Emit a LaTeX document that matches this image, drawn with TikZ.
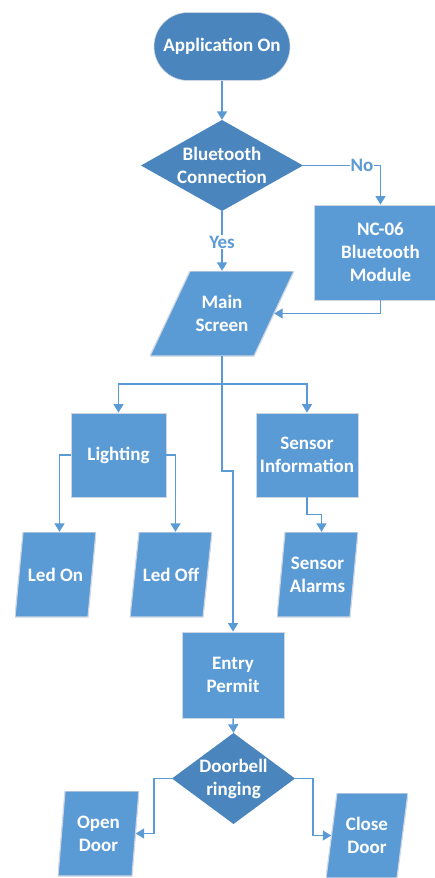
\documentclass[tikz,border=0pt]{standalone}
\usepackage{fontspec}
\setmainfont{Carlito}
\usetikzlibrary{arrows.meta,calc}
\definecolor{db}{RGB}{74,134,189}
\definecolor{lb}{RGB}{91,155,213}
\definecolor{bord}{RGB}{205,214,226}
\begin{document}
\begin{tikzpicture}[x=1pt,y=-1pt,
  every node/.style={font=\fontsize{19}{23}\selectfont\bfseries, text=white, align=center, inner sep=0pt},
  term/.style={rectangle, rounded corners=34pt, fill=db, draw=bord, line width=0.6pt, minimum width=136pt, minimum height=68pt},
  procbox/.style={rectangle, fill=lb, draw=bord, line width=0.8pt},
  decide/.style={rectangle, path picture={\fill[db] (path picture bounding box.west) -- (path picture bounding box.north) -- (path picture bounding box.east) -- (path picture bounding box.south) -- cycle;}},
  para/.style={rectangle, path picture={\filldraw[fill=lb, draw=bord, line width=1.2pt] ([xshift=#1]path picture bounding box.north west) -- (path picture bounding box.north east) -- ([xshift=-#1]path picture bounding box.south east) -- (path picture bounding box.south west) -- cycle;}},
  conn/.style={draw=lb, line width=1.5pt, -{Triangle[width=10pt,length=8.5pt]}},
  lbl/.style={fill=white, text=lb, inner sep=1pt}
]
\useasboundingbox (0,0) rectangle (435,878);
\clip (0,0) rectangle (435,878);

% nodes
\node[term] (app) at (222,46.5) {Application On};
\node[decide, minimum width=162pt, minimum height=91pt] (bt) at (222,165.5) {Bluetooth\\Connection};
\node[procbox, minimum width=133pt, minimum height=95pt] (nc) at (380.5,252.5) {NC-06\\Bluetooth\\Module};
\node[para=40pt, minimum width=144pt, minimum height=85pt] (ms) at (222,313.5) {Main\\Screen};
\node[procbox, minimum width=95pt, minimum height=84pt] (light) at (118.5,455) {Lighting};
\node[procbox, minimum width=102pt, minimum height=84pt] (sens) at (307,455) {Sensor\\Information};
\node[para=8pt, minimum width=81pt, minimum height=85pt] (ledon) at (55.5,574.5) {Led On};
\node[para=9pt, minimum width=82pt, minimum height=85pt] (ledoff) at (171,574.5) {Led Off};
\node[para=8pt, minimum width=81pt, minimum height=85pt] (alarm) at (317.5,574.5) {Sensor\\Alarms};
\node[procbox, minimum width=102pt, minimum height=86pt] (entry) at (233,675) {Entry\\Permit};
\node[decide, minimum width=123pt, minimum height=91pt] (door) at (233.5,778.5) {Doorbell\\ringing};
\node[para=7pt, minimum width=81pt, minimum height=85pt] (open) at (98.5,833.5) {Open\\Door};
\node[para=11pt, minimum width=82pt, minimum height=85pt] (close) at (367,835.5) {Close\\Door};

% helper coordinates
\coordinate (split) at (222,384);
\coordinate (jog) at (222,471);

% connectors
\draw[conn] (app.south) -- (bt.north);
\draw[conn] (bt.east) -| node[lbl, pos=0.38] {No} (nc.north);
\draw[conn] (bt.south) -- node[lbl, pos=0.52] {Yes} (ms.north);
\draw[conn] (nc.south) |- ($(ms.east)+(-20,0)$);
\draw[draw=lb, line width=1.5pt] (ms.south) -- (split);
\draw[conn] (split) -| (light.north);
\draw[conn] (split) -| (sens.north);
\draw[conn] (split) -- (jog) -| (entry.north);
\draw[conn] (light.west) -| ([xshift=4pt]ledon.north);
\draw[conn] (light.east) -| ([xshift=4.5pt]ledoff.north);
\draw[conn] (sens.south) -- ++(0,17) -| ([xshift=4pt]alarm.north);
\draw[conn] (entry.south) -- (door.north);
\draw[conn] (door.west) -- ++(-18,0) |- ($(open.east)+(-3.5,0)$);
\draw[conn] (door.east) -- ++(18,0) |- ($(close.west)+(5.5,0)$);
\end{tikzpicture}
\end{document}
